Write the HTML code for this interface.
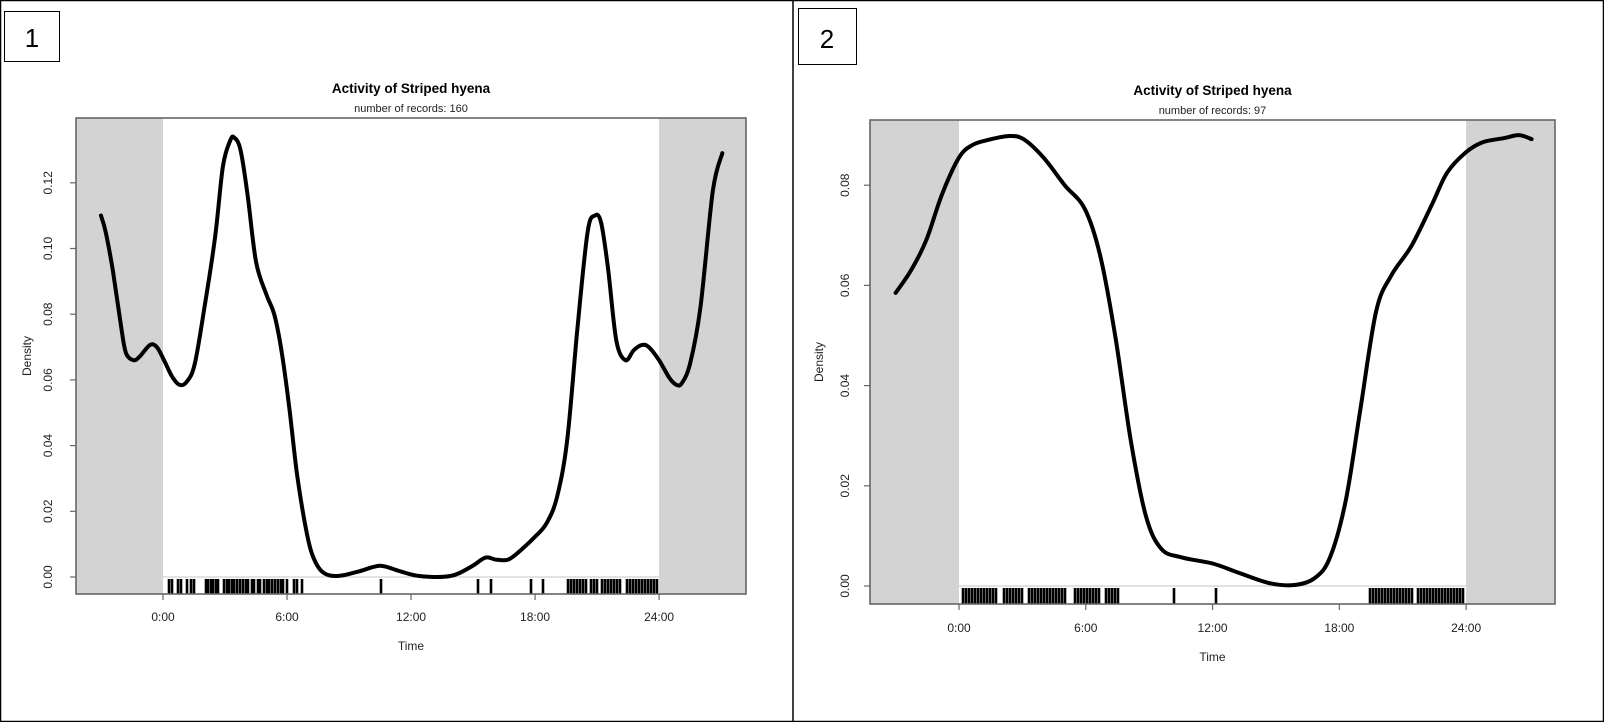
<!DOCTYPE html>
<html><head><meta charset="utf-8"><style>
html,body{margin:0;padding:0;background:#fff}
svg{display:block}
text{font-family:"Liberation Sans",Arial,sans-serif;fill:#222}
</style></head><body>
<svg id="s" width="1604" height="722" xmlns="http://www.w3.org/2000/svg">
<rect x="0.5" y="0.5" width="1603" height="721" fill="#fff" stroke="#000" stroke-width="1.5"/>
<line x1="793" y1="0" x2="793" y2="722" stroke="#000" stroke-width="1.5"/>
<rect x="4.5" y="11.5" width="55" height="50" fill="#fff" stroke="#000"/>
<text x="32" y="47" font-size="26" text-anchor="middle" style="fill:#000">1</text>
<rect x="798.5" y="8.5" width="58" height="56" fill="#fff" stroke="#000"/>
<text x="827" y="48" font-size="26" text-anchor="middle" style="fill:#000">2</text>
<g id="p1"></g><g id="p2"></g>
</svg>
<script>
var NS="http://www.w3.org/2000/svg";
function el(g,t,a,txt){var e=document.createElementNS(NS,t);for(var k in a)e.setAttribute(k,a[k]);if(txt!=null)e.textContent=txt;g.appendChild(e);return e;}
function smooth(pts){var d="M"+pts[0][0].toFixed(1)+","+pts[0][1].toFixed(1);
for(var i=0;i<pts.length-1;i++){var p0=pts[Math.max(0,i-1)],p1=pts[i],p2=pts[i+1],p3=pts[Math.min(pts.length-1,i+2)];
var c1=[p1[0]+(p2[0]-p0[0])/6,p1[1]+(p2[1]-p0[1])/6],c2=[p2[0]-(p3[0]-p1[0])/6,p2[1]-(p3[1]-p1[1])/6];
d+="C"+c1[0].toFixed(1)+","+c1[1].toFixed(1)+" "+c2[0].toFixed(1)+","+c2[1].toFixed(1)+" "+p2[0].toFixed(1)+","+p2[1].toFixed(1);}return d;}
function panel(id,c){var g=document.getElementById(id);
var X=function(h){return c.x0+h*c.ph},Y=function(v){return c.y0-v*c.pu};
var L=c.L,R=c.R,T=c.T,B=c.B;
el(g,"rect",{x:L,y:T,width:X(0)-L,height:B-T,fill:"#d3d3d3"});
el(g,"rect",{x:X(24),y:T,width:R-X(24),height:B-T,fill:"#d3d3d3"});
el(g,"line",{x1:X(0),y1:c.y0,x2:X(24),y2:c.y0,stroke:"#d0d0d0","stroke-width":1.2});
c.rug.forEach(function(x){el(g,"line",{x1:x,y1:c.y0+2,x2:x,y2:B,stroke:"#000","stroke-width":2.6});});
var pts=c.pts.map(function(p){return [X(p[0]),Y(p[1])]});
el(g,"path",{d:smooth(pts),fill:"none",stroke:"#000","stroke-width":4,"stroke-linejoin":"round","stroke-linecap":"round"});
el(g,"rect",{x:L,y:T,width:R-L,height:B-T,fill:"none",stroke:"#666","stroke-width":1.6});
["0:00","6:00","12:00","18:00","24:00"].forEach(function(s,i){var x=X(i*6);
el(g,"line",{x1:x,y1:B,x2:x,y2:B+6,stroke:"#666","stroke-width":1.2});
el(g,"text",{x:x,y:c.xl,"font-size":12,"text-anchor":"middle"},s);});
c.yt.forEach(function(v){var y=Y(v);el(g,"line",{x1:L,y1:y,x2:L-6,y2:y,stroke:"#666","stroke-width":1.2});
el(g,"text",{x:0,y:0,"font-size":12,"text-anchor":"middle",transform:"translate("+c.yl+","+y+") rotate(-90)"},v.toFixed(2));});
var cx=(L+R)/2;
el(g,"text",{x:cx,y:T-25,"font-size":13.5,"font-weight":"bold","text-anchor":"middle",style:"fill:#000"},"Activity of Striped hyena");
el(g,"text",{x:cx,y:T-6,"font-size":11,"text-anchor":"middle"},"number of records: "+c.n);
el(g,"text",{x:cx,y:c.tl,"font-size":12,"text-anchor":"middle"},"Time");
el(g,"text",{x:0,y:0,"font-size":12,"text-anchor":"middle",transform:"translate("+c.dl+","+((T+B)/2)+") rotate(-90)"},"Density");
}
function rng(a,b,s,skip){var r=[];for(var x=a;x<=b;x+=s){r.push(x);}return r;}
var rug1=[169,172,178,181,187,191,194,206,208,211,213,216,218,224,227,229,232,234,237,240,243,246,248,252,254,258,260,264,267,269,272,275,278,281,283,287,294,297,302,381,478,491,531,543]
.concat(rng(568,586,3)).concat(rng(591,599,3)).concat(rng(602,622,3)).concat(rng(627,658,3));
panel("p1",{x0:163,ph:20.67,y0:577,pu:3285,L:76,R:746,T:118,B:594,xl:621,yl:52,tl:650,dl:31,n:160,
yt:[0,0.02,0.04,0.06,0.08,0.10,0.12],rug:rug1,
pts:[[-3,0.110],[-2.77,0.105],[-2.42,0.093],[-2.0,0.075],[-1.78,0.068],[-1.43,0.066],[-1.14,0.067],[-0.64,0.0706],[-0.3,0.070],[0.05,0.066],[0.44,0.061],[0.8,0.0585],[1.14,0.0594],[1.53,0.0647],[2.0,0.0818],[2.52,0.1035],[2.9,0.125],[3.26,0.133],[3.46,0.1337],[3.75,0.130],[4.1,0.116],[4.5,0.096],[5.0,0.086],[5.38,0.080],[5.73,0.069],[6.12,0.051],[6.47,0.032],[6.86,0.0165],[7.2,0.0072],[7.7,0.0016],[8.44,0.0003],[9.43,0.0016],[10.5,0.0034],[11.4,0.0019],[12.4,0.0003],[13.9,0.0003],[14.9,0.0031],[15.6,0.0059],[16.1,0.0053],[16.7,0.0053],[17.3,0.0081],[18.07,0.0127],[18.57,0.0165],[19.06,0.0243],[19.55,0.0414],[20.05,0.0756],[20.54,0.105],[20.89,0.110],[21.19,0.108],[21.53,0.094],[21.93,0.072],[22.37,0.066],[22.77,0.069],[23.16,0.0706],[23.5,0.070],[24,0.066],[24.5,0.0606],[24.84,0.0585],[25.1,0.059],[25.5,0.065],[26,0.082],[26.6,0.1175],[27.06,0.129]]});
var rug2=rng(963,998,3).concat(rng(1004,1024,3)).concat(rng(1029,1065,3)).concat(rng(1075,1100,3)).concat(rng(1106,1120,3)).concat([1174,1216]).concat(rng(1370,1412,3)).concat(rng(1418,1464,3));
panel("p2",{x0:959,ph:21.13,y0:586,pu:5010,L:870,R:1555,T:120,B:604,xl:632,yl:849,tl:661,dl:823,n:97,
yt:[0,0.02,0.04,0.06,0.08],rug:rug2,
pts:[[-3,0.0585],[-2.27,0.063],[-1.55,0.069],[-0.82,0.078],[0,0.0855],[0.63,0.088],[1.35,0.089],[2.32,0.0898],[3.05,0.0892],[4.0,0.0855],[5.0,0.080],[5.95,0.0753],[6.68,0.066],[7.4,0.0497],[8.13,0.029],[8.85,0.0139],[9.58,0.0074],[10.55,0.0057],[12.0,0.0045],[13.2,0.0027],[14.66,0.0006],[15.87,0.0002],[16.84,0.0016],[17.56,0.0057],[18.3,0.017],[19.0,0.0354],[19.74,0.0548],[20.46,0.062],[21.43,0.068],[22.4,0.0763],[23.1,0.0825],[24,0.0866],[24.8,0.0886],[25.8,0.0894],[26.5,0.090],[27.1,0.0892]]});
</script>
</body></html>
